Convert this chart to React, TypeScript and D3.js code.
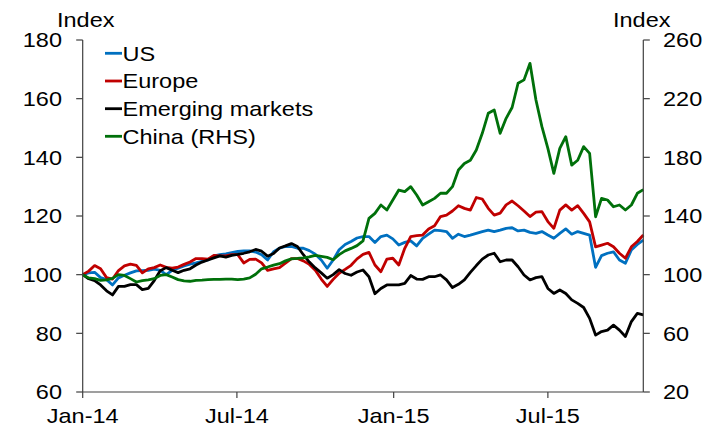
import React from "react";
import * as d3 from "d3";

const START = new Date(2014, 0, 1);
const N_WEEKS = 95;
const dates: Date[] = d3.range(N_WEEKS).map((i) => d3.timeDay.offset(START, 7 * i));

const us = [
  100, 100.6, 100.8, 99, 98.3, 96.5, 98.9, 99.8, 100.6, 101.3,
  101.4, 101.5, 101.9, 101.5, 100, 101.5, 102.2, 103, 103.6, 104,
  104.5, 105, 106.4, 106.8, 107.1, 107.5, 107.9, 108.1, 108.1, 107.7,
  106.8, 105, 107.8, 109, 109.6, 109.6, 109, 109, 108.2, 107,
  105, 102.2, 105, 108.5, 110.3, 111.3, 112.5,
  113, 113, 111, 113, 113.5, 112.2, 110.1, 111, 111.5, 109.8,
  112.4, 113.8, 115.2, 115, 114.7, 112.4, 113.8, 113, 113.5, 114.1,
  114.7, 115.2, 114.7, 115.2,
  115.8, 116, 114.9, 115.2, 114.4, 114.1, 114.7, 113.5, 112.4, 114.1,
  115.6, 113.8, 114.7, 114.1, 113.5, 102.5, 106.5, 107.3, 107.8, 105,
  103.9, 108.4, 110.3, 111.8,
];

const europe = [
  100, 101.2, 103.1, 102, 99, 98.5, 101.4, 103, 103.6, 103.2,
  100.6, 102, 102.4, 103.3, 102.5, 102.2, 102.6, 103.5, 104.3, 105.5,
  105.5, 105.3, 106.6, 106.4, 106.4, 106.8, 106.8, 104, 105.2, 105.3,
  104, 101.5, 102, 102.4, 103.9, 105.5, 105.5, 104.7, 103.5, 101.5,
  98.5, 96, 98.4, 100.5, 101.8, 103.2, 105.4,
  106.9, 107.6, 103.3, 101, 105.3, 105.6, 103.3, 109, 113, 113.3,
  113.5, 115.6, 116.7, 119.8, 120.3, 121.7, 123.5, 122.6, 122, 126.3,
  125.8, 122.6, 120.3, 121,
  123.8, 125.1, 123.5, 121.7, 119.8, 121.3, 121.5, 118.1, 115.8, 122,
  123.8, 122, 123.5, 120.9, 118, 109.5, 110.1, 110.7, 109.5, 107.3,
  105.6, 109.5, 111.3, 113.5,
];

const emerging = [
  100, 98.6, 98, 96.5, 94.5, 93.1, 96, 96, 96.6, 96.6,
  94.9, 95.3, 98, 101.3, 102.4, 101.5, 100.7, 101.5, 102, 103.3,
  104.3, 105, 105.7, 106.4, 106, 106.6, 106.9, 107.3, 107.8, 108.6,
  108, 106.3, 107.2, 109.1, 109.8, 110.6, 109.6, 106.8, 104.3, 102.3,
  100.6, 98.8, 100, 101.7, 100.4, 99.8, 100.9,
  101.6, 99.3, 93.5, 95.3, 96.5, 96.5, 96.5, 97, 99.7, 98.5,
  98.4, 99.3, 99.3, 99.9, 98.2, 95.6, 96.7, 98.2, 100.8, 103.1,
  105.3, 106.7, 107.3, 104.4,
  105, 105, 102.7, 99.9, 98.2, 99, 99.3, 95.3, 93.6, 94.8,
  93.6, 91.4, 90.2, 88.8, 85.1, 79.4, 80.6, 81.1, 82.8, 81.1,
  78.9, 84, 86.8, 86.3,
];

const china = [
  100, 97.8, 97.3, 96.1, 96.5, 97.5, 100, 99.5, 97.3, 95,
  96, 96.5, 97.3, 99.5, 100, 98.4, 96.6, 95.8, 95.5, 96.1,
  96.3, 96.6, 96.8, 96.8, 97, 97, 96.6, 97, 97.8, 100.3,
  104, 105.2, 106.5, 107.5, 109.4, 110.8, 111.1, 111.5, 112.1, 113.2,
  112.5, 111.8, 110.2, 113.7, 116.2, 117.9, 119.8,
  123, 138.4, 141.8, 147.5, 144.1, 150.9, 157.7, 156.6, 160, 154.3,
  147.5, 149.7, 152, 155.5, 155.5, 160, 171.4, 175.8, 178, 185,
  196.4, 210, 212.3, 196.4,
  206.6, 214, 230.5, 232.8, 244.1, 219.1, 200.9, 186.1, 169.1, 186.1,
  194.1, 174.7, 178, 187.3, 182.7, 139.5, 152, 150.9, 146.3, 147.5,
  144.1, 147.5, 155.5, 158,
];

const leftTicks = [60, 80, 100, 120, 140, 160, 180];
const rightTicks = [20, 60, 100, 140, 180, 220, 260];
const xTickDates = [new Date(2014, 0, 1), new Date(2014, 6, 1), new Date(2015, 0, 1), new Date(2015, 6, 1)];
const xTickLabels = ["Jan-14", "Jul-14", "Jan-15", "Jul-15"];

const seriesNames = ["US", "Europe", "Emerging markets", "China (RHS)"];
const seriesColors = ["#0070C0", "#C00000", "#000000", "#00700A"];

const FONT = "'Liberation Sans', Arial, sans-serif";
const FS = 21;
const SX = 1.12;

function T({ x, y, anchor = "start", children }: any) {
  return (
    <text
      transform={`translate(${x},${y}) scale(${SX},1)`}
      textAnchor={anchor}
      fontFamily={FONT}
      fontSize={FS}
      fill="#000"
    >
      {children}
    </text>
  );
}

export default function App() {
  const W = 720;
  const H = 428;
  const x0 = 82.7;
  const x1 = 643.3;
  const yTop = 40;
  const yBot = 392;

  const x = d3.scaleTime().domain([START, dates[dates.length - 1]]).range([x0, x1]);
  const yL = d3.scaleLinear().domain([60, 180]).range([yBot, yTop]);
  const yR = d3.scaleLinear().domain([20, 260]).range([yBot, yTop]);

  const mk = (vals: number[], sc: any) =>
    d3
      .line<number>()
      .x((_, i) => x(dates[i]))
      .y((v) => sc(v))(vals) as string;

  const paths = [
    { d: mk(us, yL), c: seriesColors[0] },
    { d: mk(europe, yL), c: seriesColors[1] },
    { d: mk(emerging, yL), c: seriesColors[2] },
    { d: mk(china, yR), c: seriesColors[3] },
  ];

  const axisColor = "#404040";
  const legendY = [53.3, 81, 108.7, 136.3];

  return (
    <svg
      width={W}
      height={H}
      style={{ position: "absolute", left: 0, top: 0, background: "#fff" }}
    >
      <rect x={0} y={0} width={W} height={H} fill="#fff" />
      {paths.map((p, i) => (
        <path key={i} d={p.d} fill="none" stroke={p.c} strokeWidth={2.8} strokeLinejoin="round" />
      ))}
      <line x1={x0} x2={x0} y1={yTop} y2={yBot} stroke={axisColor} strokeWidth={1.2} />
      <line x1={x1} x2={x1} y1={yTop} y2={yBot} stroke={axisColor} strokeWidth={1.2} />
      <line x1={x0} x2={x1} y1={yBot} y2={yBot} stroke={axisColor} strokeWidth={1.2} />
      {leftTicks.map((t) => (
        <g key={"l" + t}>
          <line x1={x0 - 6.5} x2={x0} y1={yL(t)} y2={yL(t)} stroke={axisColor} strokeWidth={1.2} />
          <T x={62} y={yL(t) + 7.3} anchor="end">{t}</T>
        </g>
      ))}
      {rightTicks.map((t) => (
        <g key={"r" + t}>
          <line x1={x1} x2={x1 + 6.5} y1={yR(t)} y2={yR(t)} stroke={axisColor} strokeWidth={1.2} />
          <T x={663} y={yR(t) + 7.3} anchor="start">{t}</T>
        </g>
      ))}
      {xTickDates.map((d, i) => (
        <g key={"x" + i}>
          <line x1={x(d)} x2={x(d)} y1={yBot} y2={yBot + 6} stroke={axisColor} strokeWidth={1.2} />
          <T x={x(d)} y={423} anchor="middle">{xTickLabels[i]}</T>
        </g>
      ))}
      <T x={57} y={26.7} anchor="start">Index</T>
      <T x={613} y={26.7} anchor="start">Index</T>
      {seriesNames.map((n, i) => (
        <g key={n}>
          <line x1={105} x2={122} y1={legendY[i]} y2={legendY[i]} stroke={seriesColors[i]} strokeWidth={2.8} />
          <T x={122.5} y={legendY[i] + 7.3} anchor="start">{n}</T>
        </g>
      ))}
    </svg>
  );
}
